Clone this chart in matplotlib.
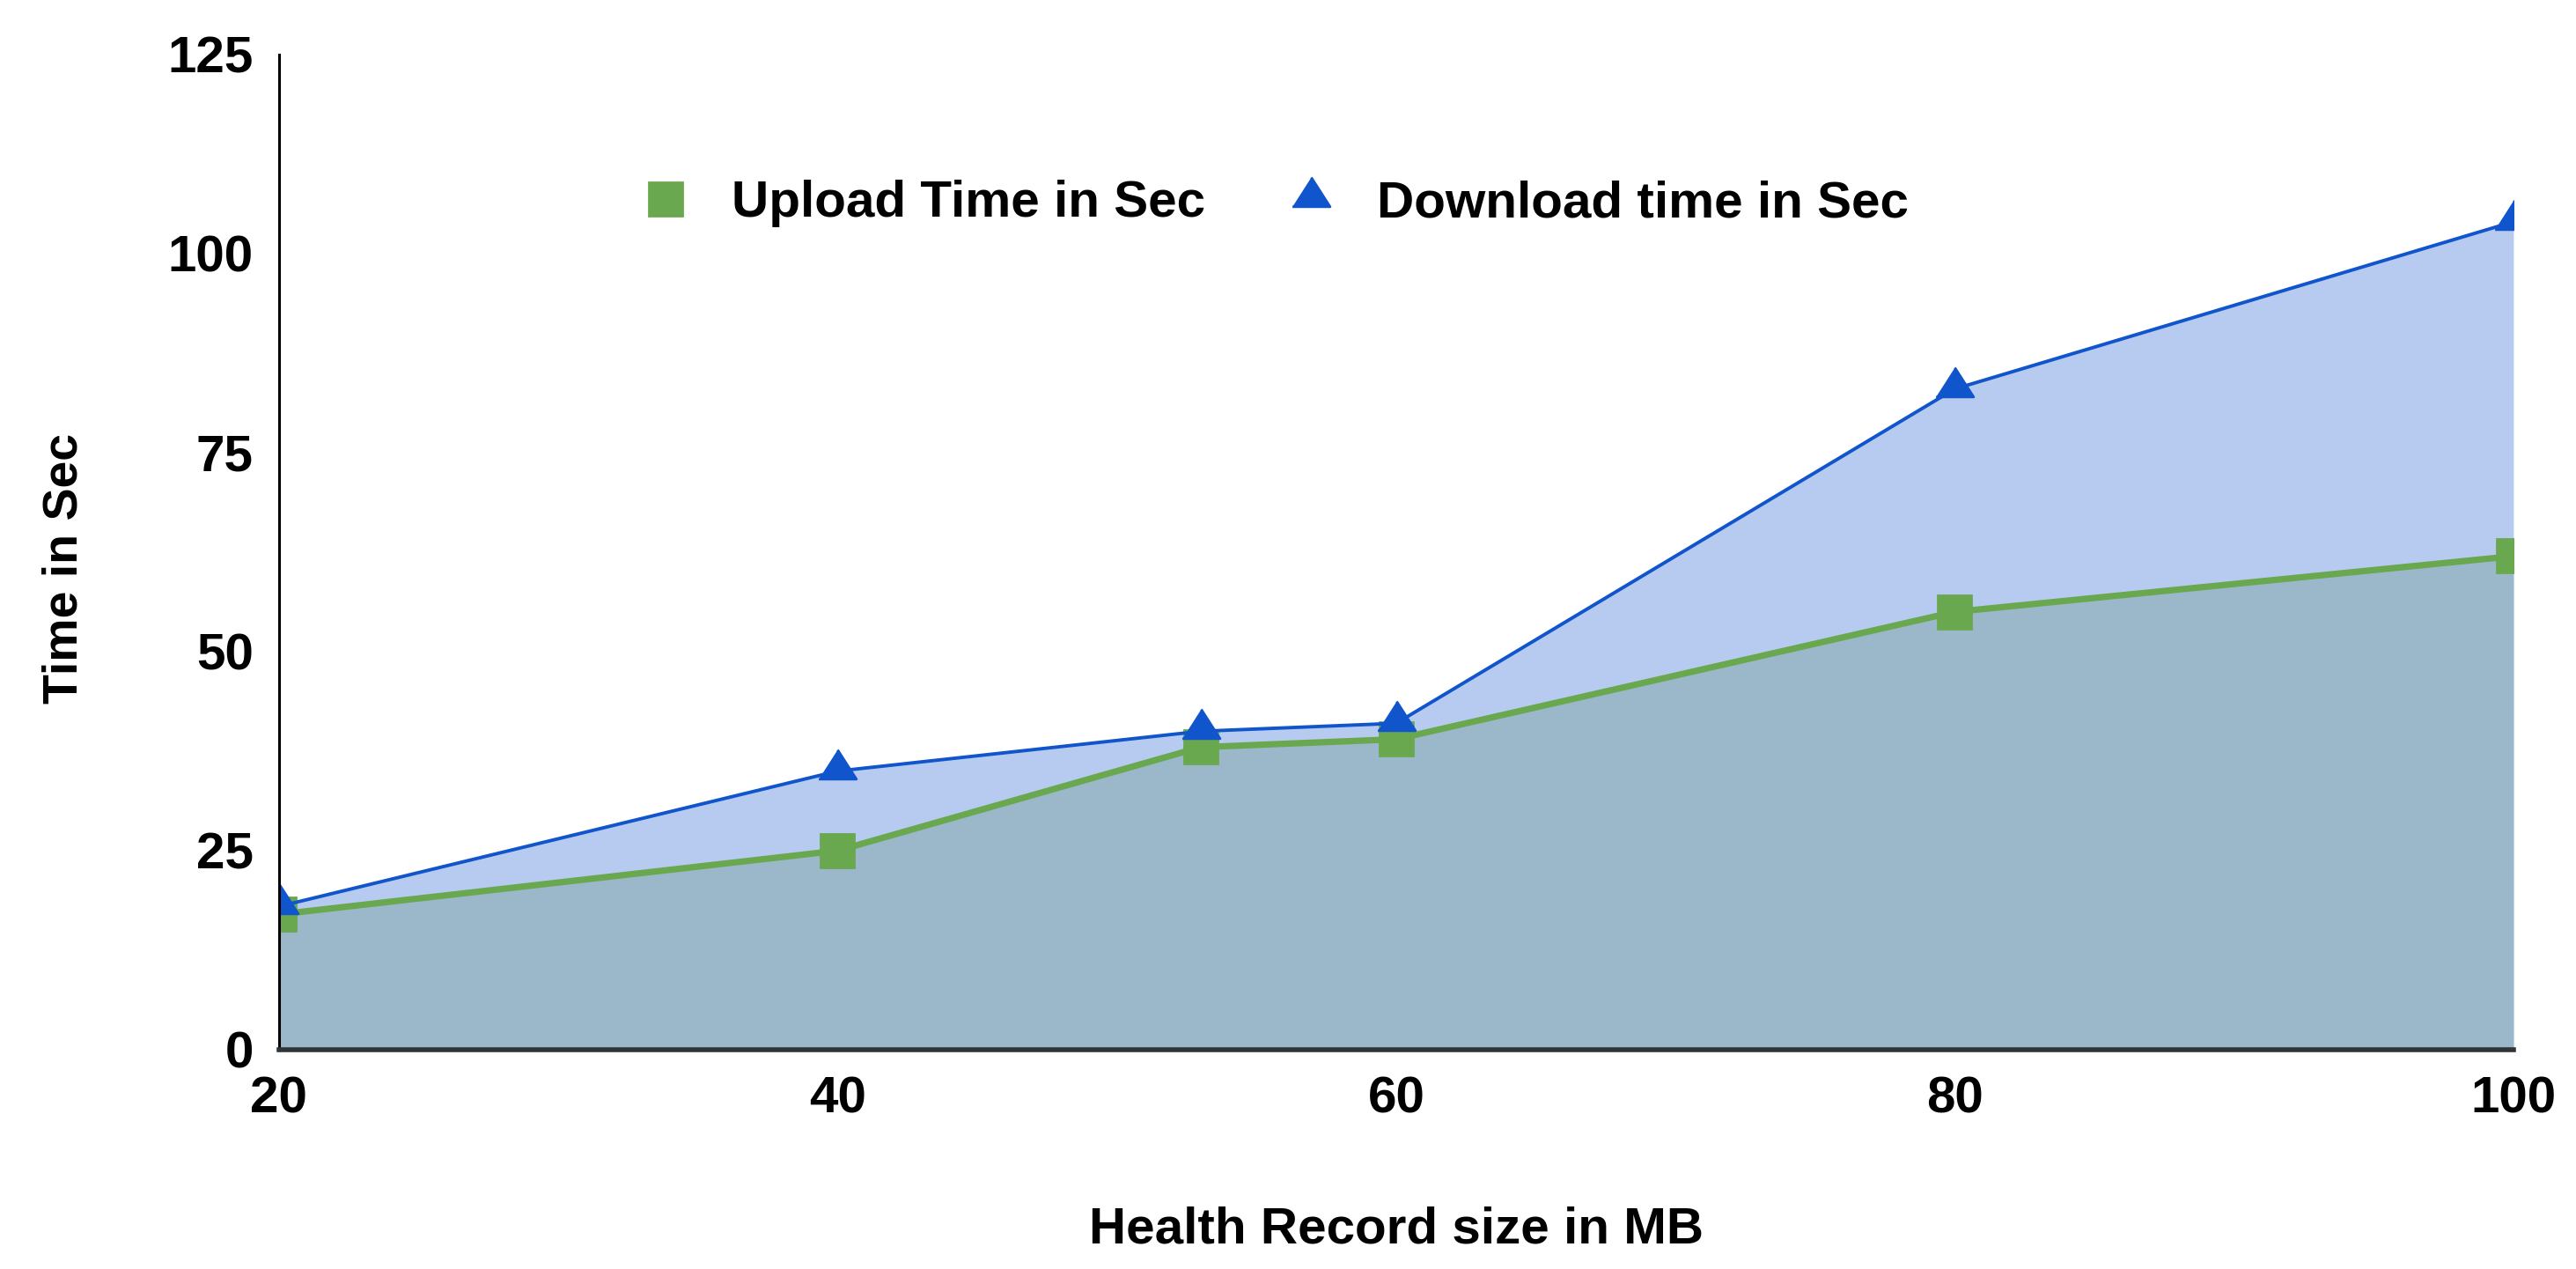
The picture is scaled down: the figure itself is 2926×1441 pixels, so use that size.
import matplotlib
matplotlib.use('Agg')
import matplotlib.pyplot as plt
from matplotlib.lines import Line2D

# values
record_mb = [20, 40, 53, 60, 80, 100]
upload_s = [17, 25, 38, 39, 55, 62]
download_s = [18, 35, 40, 41, 83, 104]
x_ticks = [20, 40, 60, 80, 100]
y_ticks = [0, 25, 50, 75, 100, 125]

plt.rcParams['font.family'] = ['Liberation Sans', 'DejaVu Sans']
plt.rcParams['font.weight'] = 'bold'

GREEN = '#6AA84F'
BLUE = '#1155CC'
tri = [(-1, -0.39), (1, -0.39), (0, 1.17)]

fig = plt.figure(figsize=(14.63, 7.205), dpi=200)
ax = fig.add_axes([0.1083, 0.1728, 0.9757 - 0.1083, 0.957 - 0.1728])

ax.fill_between(record_mb, download_s, color='#B7CBF0', linewidth=0)
ax.fill_between(record_mb, upload_s, color='#9AB8C9', linewidth=0)
ax.plot(record_mb, upload_s, color=GREEN, linewidth=2.6, marker='s', markersize=14)
ax.plot(record_mb, download_s, color=BLUE, linewidth=1.4, marker=tri, markersize=18)

ax.set_xlim(20, 100)
ax.set_ylim(0, 125)
ax.set_xticks(x_ticks)
ax.set_yticks(y_ticks)
ax.tick_params(axis='both', length=0, labelsize=21)
ax.tick_params(axis='x', pad=10.5)
ax.tick_params(axis='y', pad=10.5)

for s in ('top', 'right'):
    ax.spines[s].set_visible(False)
ax.spines['left'].set_linewidth(1.1)
ax.spines['left'].set_color('black')
ax.spines['bottom'].set_linewidth(2.0)
ax.spines['bottom'].set_color('#2F3437')

ax.set_xlabel('Health Record size in MB', fontsize=21, fontweight='bold', labelpad=34)
ax.set_ylabel('Time in Sec', fontsize=20, fontweight='bold')
ax.yaxis.set_label_coords(-0.0855, 0.484)

handles = [
    Line2D([], [], linestyle='none', marker='s', markersize=14, color=GREEN),
    Line2D([], [], linestyle='none', marker=tri, markersize=18, color=BLUE),
]
ax.legend(handles, ['Upload Time in Sec', 'Download time in Sec'],
          loc='center', bbox_to_anchor=(0.446, 0.85), ncol=2, frameon=False,
          fontsize=21, handlelength=0.9, columnspacing=1.6, handletextpad=0.84)

fig.savefig('out.png', dpi=200)
